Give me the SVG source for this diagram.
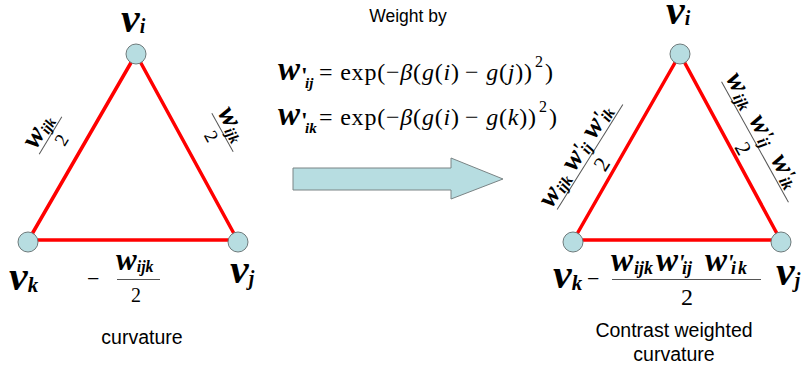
<svg xmlns="http://www.w3.org/2000/svg" width="805" height="366" viewBox="0 0 805 366">
<style>
.bi{font-family:"Liberation Serif","Times New Roman",serif;font-weight:bold;font-style:italic;fill:#000}
.rm{font-family:"Liberation Serif","Times New Roman",serif;fill:#000}
.it{font-style:italic}
.b{font-weight:bold}
.sans{font-family:"Liberation Sans",Arial,sans-serif;fill:#000}
.edge{stroke:#ff0000;stroke-width:3.5;fill:none;stroke-linecap:round}
.node{fill:#b7dde1;stroke:#6e7a7b;stroke-width:1}
.fl{stroke:#555;stroke-width:1}
</style>
<rect width="805" height="366" fill="#fff"/>

<g id="connectors">
  <line class="edge" x1="136" y1="54" x2="28" y2="241"/>
  <line class="edge" x1="136" y1="54" x2="238" y2="241"/>
  <line class="edge" x1="28" y1="240" x2="238" y2="240"/>
  <line class="edge" x1="680" y1="54" x2="573" y2="241"/>
  <line class="edge" x1="680" y1="54" x2="781" y2="241"/>
  <line class="edge" x1="573" y1="240" x2="781" y2="240"/>
</g>

<g id="node-left-i">
  <circle class="node" cx="136" cy="54" r="10"/>
  <text class="bi" x="121" y="32" font-size="42">v<tspan font-size="20" dy="1">i</tspan></text>
</g>
<g id="node-left-k">
  <circle class="node" cx="28" cy="242" r="10"/>
  <text class="bi" x="9" y="290" font-size="42">v<tspan font-size="21" dy="2">k</tspan></text>
</g>
<g id="node-left-j">
  <circle class="node" cx="238" cy="242" r="10"/>
  <text class="bi" x="230" y="283" font-size="42">v<tspan font-size="20" dy="2">j</tspan></text>
</g>

<g id="node-right-i">
  <circle class="node" cx="680" cy="54" r="10"/>
  <text class="bi" x="666" y="24" font-size="42">v<tspan font-size="20" dy="1">i</tspan></text>
</g>
<g id="node-right-k">
  <circle class="node" cx="573" cy="242" r="10"/>
  <text class="bi" x="553" y="288" font-size="42">v<tspan font-size="21" dy="2">k</tspan></text>
</g>
<g id="node-right-j">
  <circle class="node" cx="781" cy="242" r="10"/>
  <text class="bi" x="776" y="285" font-size="42">v<tspan font-size="20" dy="2">j</tspan></text>
</g>

<g id="labels-left">
  <g transform="translate(50.5,135.5) rotate(-59)">
    <line class="fl" x1="-22" y1="0" x2="22" y2="0"/>
    <text class="bi" x="-20" y="-5"><tspan font-size="29">w</tspan><tspan font-size="15" dy="3">ijk</tspan></text>
    <text class="rm" x="2" y="18" font-size="19" text-anchor="middle">2</text>
  </g>
  <g transform="translate(222.5,132.5) rotate(61)">
    <line class="fl" x1="-22" y1="0" x2="22" y2="0"/>
    <text class="bi" x="-20" y="-5"><tspan font-size="29">w</tspan><tspan font-size="15" dy="3">ijk</tspan></text>
    <text class="rm" x="-2" y="18" font-size="19" text-anchor="middle">2</text>
  </g>
  <text class="rm" x="87" y="286" font-size="22">−</text>
  <line class="fl" x1="117" y1="279.5" x2="160" y2="279.5"/>
  <text class="bi" x="116" y="270"><tspan font-size="31">w</tspan><tspan font-size="16" dy="2">ijk</tspan></text>
  <text class="rm" x="136" y="302" font-size="20" text-anchor="middle">2</text>
  <text class="sans" x="142" y="344" font-size="19.5" text-anchor="middle">curvature</text>
</g>

<g id="weight-formula">
  <text class="sans" x="408" y="22" font-size="17.5" text-anchor="middle">Weight by</text>
  <text class="bi" x="278" y="80" font-size="33">w</text>
  <text class="rm b" x="301" y="83" font-size="24">'</text>
  <text class="bi" x="305" y="88" font-size="15">ij</text>
  <text class="rm" x="319" y="80" font-size="24" letter-spacing="0.8">= exp(−<tspan class="it">β</tspan>(<tspan class="it">g</tspan>(<tspan class="it">i</tspan>)</text>
  <text class="rm" x="465" y="80" font-size="24" letter-spacing="0.8">− <tspan class="it">g</tspan>(<tspan class="it">j</tspan>))</text>
  <text class="rm" x="535" y="67" font-size="16">2</text>
  <text class="rm" x="545" y="80" font-size="24">)</text>

  <text class="bi" x="278" y="125" font-size="33">w</text>
  <text class="rm b" x="301" y="128" font-size="24">'</text>
  <text class="bi" x="305" y="133" font-size="15">ik</text>
  <text class="rm" x="319" y="125" font-size="24" letter-spacing="0.8">= exp(−<tspan class="it">β</tspan>(<tspan class="it">g</tspan>(<tspan class="it">i</tspan>)</text>
  <text class="rm" x="465" y="125" font-size="24" letter-spacing="0.8">− <tspan class="it">g</tspan>(<tspan class="it">k</tspan>))</text>
  <text class="rm" x="539" y="112" font-size="16">2</text>
  <text class="rm" x="549" y="125" font-size="24">)</text>
</g>

<g id="arrow">
  <polygon points="293,168 451,168 451,158 503,179 451,199 451,190 293,190" fill="#b7dde1" stroke="#7a8485" stroke-width="1"/>
</g>

<g id="labels-right">
  <g transform="translate(590,157) rotate(-58)">
    <line class="fl" x1="-62" y1="0" x2="62" y2="0"/>
    <text class="bi" y="-5">
      <tspan x="-64" font-size="28">w</tspan><tspan x="-45" font-size="16" dy="3">ijk</tspan><tspan x="-21" font-size="28" dy="-3">w</tspan><tspan x="-2" font-size="22" class="rm b" dy="-1">'</tspan><tspan x="1" font-size="16" dy="4">ij</tspan><tspan x="17" font-size="28" dy="-3">w</tspan><tspan x="36" font-size="22" class="rm b" dy="-1">'</tspan><tspan x="39" font-size="16" dy="4">ik</tspan>
    </text>
    <text class="rm" x="0" y="21" font-size="22" text-anchor="middle">2</text>
  </g>
  <g transform="translate(755,142) rotate(61)">
    <line class="fl" x1="-69" y1="0" x2="69" y2="0"/>
    <text class="bi" y="-5">
      <tspan x="-70" font-size="28">w</tspan><tspan x="-50" font-size="16" dy="3">ijk</tspan><tspan x="-22" font-size="28" dy="-3">w</tspan><tspan x="-3" font-size="22" class="rm b" dy="-1">'</tspan><tspan x="0" font-size="16" dy="4">ij</tspan><tspan x="23" font-size="28" dy="-3">w</tspan><tspan x="42" font-size="22" class="rm b" dy="-1">'</tspan><tspan x="45" font-size="16" dy="4">ik</tspan>
    </text>
    <text class="rm" x="0" y="21" font-size="22" text-anchor="middle">2</text>
  </g>
  <text class="rm" x="587" y="286" font-size="22">−</text>
  <line class="fl" x1="612" y1="279.5" x2="761" y2="279.5"/>
  <text class="bi" y="271">
    <tspan x="611" font-size="33">w</tspan><tspan x="634" font-size="18" dy="3">ijk</tspan><tspan x="656" font-size="33" dy="-3">w</tspan><tspan x="678" font-size="24" class="rm b" dy="-1">'</tspan><tspan x="682" font-size="18" dy="4">ij</tspan><tspan x="705" font-size="33" dy="-3">w</tspan><tspan x="727" font-size="24" class="rm b" dy="-1">'</tspan><tspan x="731" font-size="18" dy="4" letter-spacing="2">ik</tspan>
  </text>
  <text class="rm" x="687" y="305" font-size="24" text-anchor="middle">2</text>
  <text class="sans" x="674" y="337" font-size="19.5" text-anchor="middle">Contrast weighted</text>
  <text class="sans" x="674" y="361" font-size="19.5" text-anchor="middle">curvature</text>
</g>
</svg>
